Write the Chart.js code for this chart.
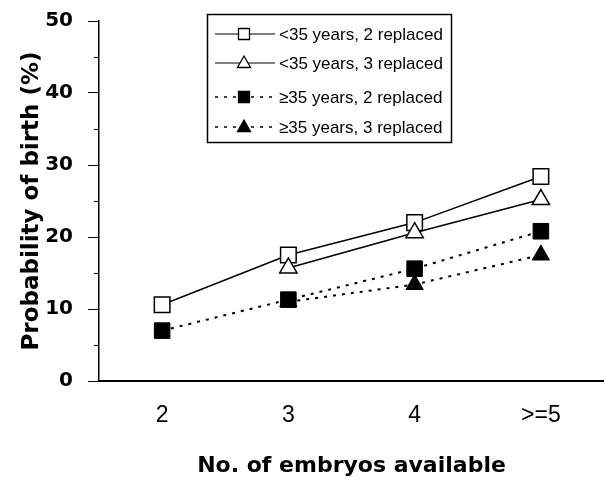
<!DOCTYPE html>
<html>
<head>
<meta charset="utf-8">
<script src="https://cdn.jsdelivr.net/npm/chart.js@4/dist/chart.umd.min.js"></script>
<style>
  html, body { margin: 0; padding: 0; background: #fff; }
  #wrap { width: 604px; height: 482px; }
</style>
</head>
<body>
<div id="wrap"><canvas id="chart" width="604" height="482"></canvas></div>
<script>
// values (probability of birth, %)
const embryoLabels = ['2', '3', '4', '>=5'];
const youngTwo = [10.6, 17.5, 22.0, 28.4];
const youngThree = [null, 15.7, 20.6, 25.2];
const olderTwo = [7.0, 11.3, 15.6, 20.8];
const olderThree = [null, 11.0, 13.4, 17.5];
const seriesNames = ['<35 years, 2 replaced', '<35 years, 3 replaced', '\u226535 years, 2 replaced', '\u226535 years, 3 replaced'];
const yTicksMajor = [0, 10, 20, 30, 40, 50];

const FONT = '"Liberation Sans", Arial, Helvetica, sans-serif';
const WIDE = '"DejaVu Sans", Verdana, sans-serif';

// short minor ticks at the 5s, and the boxed legend in the top middle
const extras = {
  id: 'extras',
  afterDraw(chart) {
    const c = chart.ctx;
    const y = chart.scales.y;
    c.save();
    c.strokeStyle = '#000';
    c.lineWidth = 1;
    y.ticks.forEach(t => {
      if (t.value % 10 === 0) return;
      const py = Math.round(y.getPixelForValue(t.value)) + 0.5;
      c.beginPath();
      c.moveTo(y.right - 5, py);
      c.lineTo(y.right, py);
      c.stroke();
    });

    // legend
    c.lineWidth = 1.5;
    c.strokeRect(207.5, 14.5, 244, 128);
    const rows = [34, 63, 97, 127];
    c.font = '17px ' + FONT;
    c.textBaseline = 'middle';
    chart.data.datasets.forEach((ds, i) => {
      const ly = rows[i];
      c.strokeStyle = '#000';
      c.lineWidth = ds.borderDash ? 1.5 : 1;
      c.setLineDash(ds.borderDash || []);
      c.beginPath();
      c.moveTo(215, ly);
      c.lineTo(275, ly);
      c.stroke();
      c.setLineDash([]);
      c.fillStyle = ds.pointBackgroundColor;
      c.lineWidth = 1.3;
      c.beginPath();
      if (ds.pointStyle === 'rect') {
        c.rect(244 - 5.5, ly - 5.5, 11, 11);
      } else {
        c.moveTo(244, ly - 7);
        c.lineTo(244 + 6.5, ly + 4.5);
        c.lineTo(244 - 6.5, ly + 4.5);
        c.closePath();
      }
      c.fill();
      c.stroke();
      c.fillStyle = '#000';
      c.fillText(seriesNames[i], 279, ly + 1);
    });
    c.restore();
  }
};

new Chart(document.getElementById('chart'), {
  type: 'line',
  data: {
    labels: embryoLabels,
    datasets: [
      {
        label: seriesNames[0], data: youngTwo, order: 2,
        borderColor: '#000', borderWidth: 1.5,
        pointStyle: 'rect', pointRadius: 11, pointBorderWidth: 1.5,
        pointBorderColor: '#000', pointBackgroundColor: '#fff'
      },
      {
        label: seriesNames[1], data: youngThree, order: 1,
        borderColor: '#000', borderWidth: 1.5,
        pointStyle: 'triangle', pointRadius: 10, pointBorderWidth: 1.5,
        pointBorderColor: '#000', pointBackgroundColor: '#fff'
      },
      {
        label: seriesNames[2], data: olderTwo, order: 3,
        borderColor: '#000', borderWidth: 2, borderDash: [3, 6],
        pointStyle: 'rect', pointRadius: 11, pointBorderWidth: 1,
        pointBorderColor: '#000', pointBackgroundColor: '#000'
      },
      {
        label: seriesNames[3], data: olderThree, order: 4,
        borderColor: '#000', borderWidth: 2, borderDash: [3, 6],
        pointStyle: 'triangle', pointRadius: 10, pointBorderWidth: 1,
        pointBorderColor: '#000', pointBackgroundColor: '#000'
      }
    ]
  },
  options: {
    responsive: false,
    animation: false,
    spanGaps: false,
    layout: { autoPadding: false, padding: { top: 21, right: 0, left: 0, bottom: 0 } },
    plugins: { legend: { display: false }, tooltip: { enabled: false } },
    elements: { line: { tension: 0, fill: false } },
    scales: {
      x: {
        type: 'category',
        offset: true,
        grid: { display: true, drawOnChartArea: false, drawTicks: false },
        border: { display: true, color: '#000', width: 2 },
        ticks: { color: '#000', padding: 21, font: { family: FONT, size: 23 } },
        title: {
          display: true, text: 'No. of embryos available', color: '#000',
          font: { family: WIDE, size: 22, weight: 'bold' }, padding: { top: 0, bottom: 3 }
        },
        afterFit: s => { s.height = 101; s.paddingLeft = 0; s.paddingRight = 0; }
      },
      y: {
        min: 0, max: 50,
        grid: {
          display: true, drawOnChartArea: false, tickLength: 11,
          tickColor: ctx => (ctx.tick && ctx.tick.value % 10 === 0) ? '#000' : 'rgba(0,0,0,0)'
        },
        border: { display: true, color: '#000', width: 1.5 },
        ticks: {
          stepSize: 5, color: '#000', padding: 15,
          font: { family: WIDE, size: 20, weight: 'bold' },
          callback: v => yTicksMajor.includes(v) ? String(v) : ''
        },
        title: {
          display: true, text: 'Probability of birth (%)', color: '#000',
          font: { family: WIDE, size: 23, weight: 'bold' }, padding: { top: 18, bottom: 0 }
        },
        afterFit: s => { s.width = 99; s.paddingTop = 0; s.paddingBottom = 0; }
      }
    }
  },
  plugins: [extras]
});
</script>
</body>
</html>
